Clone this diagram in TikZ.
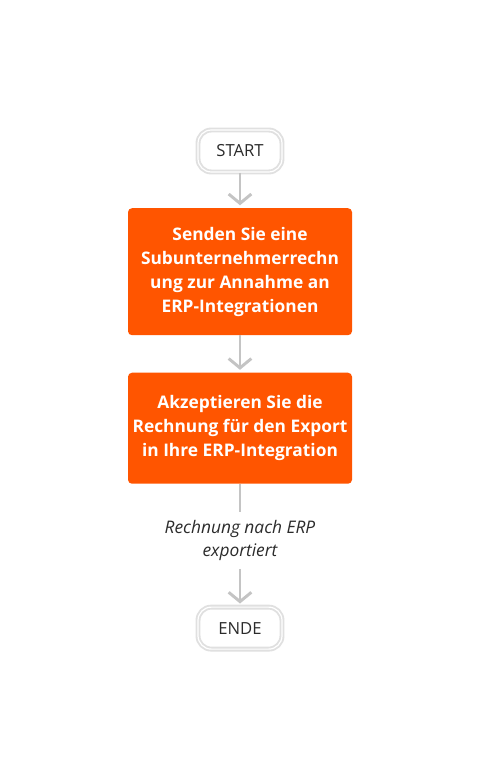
\documentclass[tikz,border=0pt]{standalone}
\usepackage{fontspec}
\setmainfont{Open Sans}
\usetikzlibrary{arrows.meta,positioning}
\definecolor{flowOrange}{HTML}{FF5500}
\definecolor{flowGray}{HTML}{C4C4C4}
\definecolor{flowText}{HTML}{2B2B2B}
\tikzset{
    terminal/.style={rectangle, rounded corners=10pt, draw=black!12, line width=1.4pt,
        double=white, double distance=0.9pt, fill=white, minimum width=63pt,
        minimum height=31.5pt, font=\fontsize{12.5}{18}\selectfont, text=flowText},
    process/.style={rectangle, rounded corners=3pt, fill=flowOrange, text=white,
        minimum width=168pt, align=center, font=\fontsize{13}{18}\selectfont\bfseries},
    note/.style={align=center, inner sep=6pt, text=flowText,
        font=\fontsize{13}{17.25}\selectfont\itshape},
    flow/.style={draw=flowGray, line width=2.2pt, -{Straight Barb[length=7pt,width=17pt]}},
    plain/.style={draw=flowGray, line width=2.2pt}
}

\begin{document}
\begin{tikzpicture}[x=0.75pt, y=-0.75pt, node distance=26pt]
    \useasboundingbox[fill=white] (0,0) rectangle (480,780);
    \node[terminal] (start) at (240,151) {START};
    \node[process, minimum height=95.25pt, below=26.25pt of start] (send) {Senden Sie eine\\Subunternehmerrechn\\ung zur Annahme an\\ERP-Integrationen};
    \node[process, minimum height=83.25pt, below=27.75pt of send] (accept) {Akzeptieren Sie die\\Rechnung für den Export\\in Ihre ERP-Integration};
    \node[note, below=21pt of accept] (exported) {Rechnung nach ERP\\exportiert};
    \node[terminal, below=28pt of exported] (ende) {ENDE};

    \draw[flow, shorten >=2pt] (start) -- (send);
    \draw[flow, shorten >=2pt] (send) -- (accept);
    \draw[plain] (accept) -- (exported);
    \draw[flow, shorten >=2pt] (exported) -- (ende);
\end{tikzpicture}
\end{document}
